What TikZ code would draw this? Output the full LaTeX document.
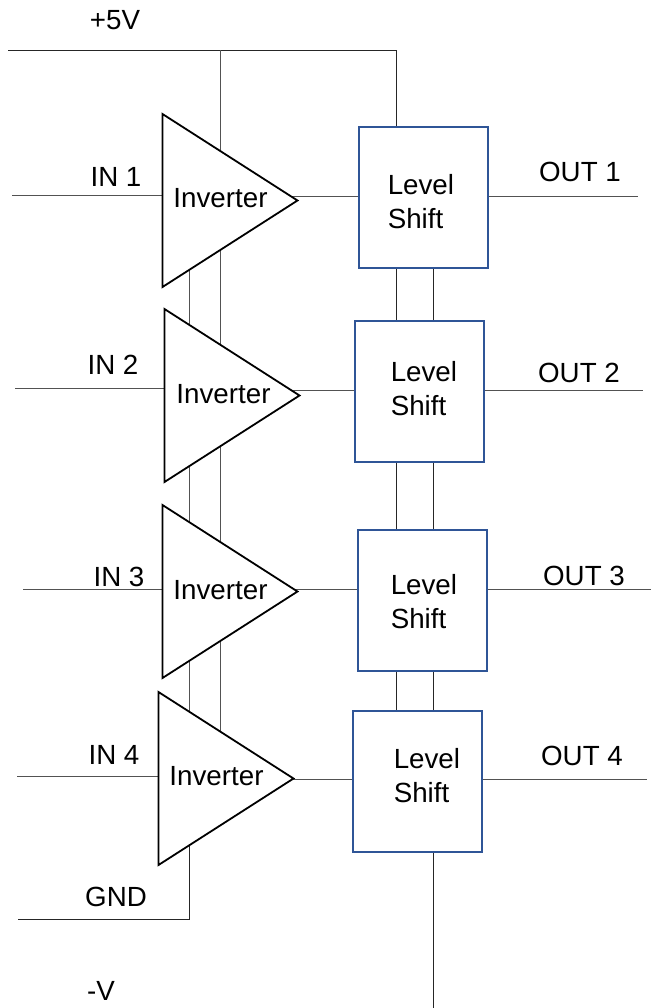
\documentclass[tikz,border=0pt]{standalone}
\usepackage{fontspec}
\setmainfont{Liberation Sans}
\usetikzlibrary{shapes.geometric, backgrounds}
\tikzset{
	wire/.style={line width=0.7pt, color=black!68},
	rail/.style={line width=0.62pt, color=black!85},
	inverter/.style={draw=black, line width=1.35pt, fill=white, shape=isosceles triangle, isosceles triangle stretches, inner sep=0pt, outer sep=0pt, minimum height=101.25pt, minimum width=129.75pt, anchor=lower side},
	shiftbox/.style={draw=shiftblue, line width=1.5pt, fill=white, inner sep=0pt, outer sep=0pt, minimum width=96.75pt, minimum height=105.75pt},
	lbl/.style={inner sep=0pt, font=\fontsize{20.8}{25}\selectfont},
	shiftlbl/.style={lbl, anchor=west, align=left}
}
\definecolor{shiftblue}{HTML}{2F5597}

\begin{document}
\begin{tikzpicture}[x=0.75pt, y=-0.75pt]
	\useasboundingbox (0, 0) rectangle (652, 1008);

	% inverters
	\node[inverter] (inv1) at (162.5, 200.5) {};
	\node[inverter] (inv2) at (164.5, 395.5) {};
	\node[inverter] (inv3) at (162.5, 591.5) {};
	\node[inverter] (inv4) at (158.5, 778.5) {};
	\node[lbl] (invlbl1) at (220.5, 198) {Inverter};
	\node[lbl] (invlbl2) at (223.5, 394.5) {Inverter};
	\node[lbl] (invlbl3) at (220.5, 590.5) {Inverter};
	\node[lbl] (invlbl4) at (216.5, 776.5) {Inverter};

	% level shifters
	\node[shiftbox] (shift1) at (423.5, 197.5) {};
	\node[shiftbox] (shift2) at (419.5, 391.5) {};
	\node[shiftbox] (shift3) at (422.5, 600.5) {};
	\node[shiftbox] (shift4) at (417.5, 781.5) {};
	\node[shiftlbl] (shiftlbl1) at (387.5, 201.5) {Level\\Shift};
	\node[shiftlbl] (shiftlbl2) at (390.5, 388.5) {Level\\Shift};
	\node[shiftlbl] (shiftlbl3) at (390.5, 601.5) {Level\\Shift};
	\node[shiftlbl] (shiftlbl4) at (393.5, 775.5) {Level\\Shift};

	% free ends of the wires
	\coordinate (vleft) at (8, 50);
	\coordinate (vright) at (396, 50);
	\coordinate (vtap) at (220.5, 50);
	\coordinate (gndleft) at (18, 919);
	\coordinate (gndright) at (189.5, 919);
	\coordinate (negend) at (433.5, 1008);
	\coordinate (in1) at (12, 195);
	\coordinate (in2) at (15, 388);
	\coordinate (in3) at (23, 589);
	\coordinate (in4) at (17, 776);
	\coordinate (out1) at (638, 196);
	\coordinate (out2) at (643, 390.5);
	\coordinate (out3) at (651, 589);
	\coordinate (out4) at (647, 779.5);

	% labels
	\node[lbl] (vlbl) at (115, 20.5) {+5V};
	\node[lbl] (gndlbl) at (116, 897) {GND};
	\node[lbl] (neglbl) at (101, 991) {-V};
	\node[lbl] (inlbl1) at (116, 177) {IN 1};
	\node[lbl] (inlbl2) at (113, 365) {IN 2};
	\node[lbl] (inlbl3) at (119, 577) {IN 3};
	\node[lbl] (inlbl4) at (114, 755) {IN 4};
	\node[lbl] (outlbl1) at (580, 172) {OUT 1};
	\node[lbl] (outlbl2) at (579, 373) {OUT 2};
	\node[lbl] (outlbl3) at (584, 576) {OUT 3};
	\node[lbl] (outlbl4) at (582, 756) {OUT 4};

	\begin{scope}[on background layer]
		% supply rails
		\draw[rail] (vleft) -- (vright) -- (vright |- shift1);
		\draw[wire] (vtap) -- (vtap |- inv1);
		\draw[rail] (gndleft) -- (gndright) -- (gndright |- inv4);
		\draw[rail] (negend) -- (negend |- shift4);

		% between the inverters
		\draw[wire] (gndright |- inv1) -- (gndright |- inv2);
		\draw[wire] (gndright |- inv2) -- (gndright |- inv3);
		\draw[wire] (gndright |- inv3) -- (gndright |- inv4);
		\draw[wire] (vtap |- inv1) -- (vtap |- inv2);
		\draw[wire] (vtap |- inv2) -- (vtap |- inv3);
		\draw[wire] (vtap |- inv3) -- (vtap |- inv4);

		% between the level shifters
		\draw[rail] (vright |- shift1) -- (vright |- shift2);
		\draw[rail] (vright |- shift2) -- (vright |- shift3);
		\draw[rail] (vright |- shift3) -- (vright |- shift4);
		\draw[rail] (negend |- shift1) -- (negend |- shift2);
		\draw[rail] (negend |- shift2) -- (negend |- shift3);
		\draw[rail] (negend |- shift3) -- (negend |- shift4);

		% inputs
		\draw[wire] (in1) -- (in1 -| inv1);
		\draw[wire] (in2) -- (in2 -| inv2);
		\draw[wire] (in3) -- (in3 -| inv3);
		\draw[wire] (in4) -- (in4 -| inv4);

		% inverter to level shifter, and outputs
		\draw[wire] (out1 -| inv1) -- (out1);
		\draw[wire] (out2 -| inv2) -- (out2);
		\draw[wire] (out3 -| inv3) -- (out3);
		\draw[wire] (out4 -| inv4) -- (out4);
	\end{scope}
\end{tikzpicture}
\end{document}
